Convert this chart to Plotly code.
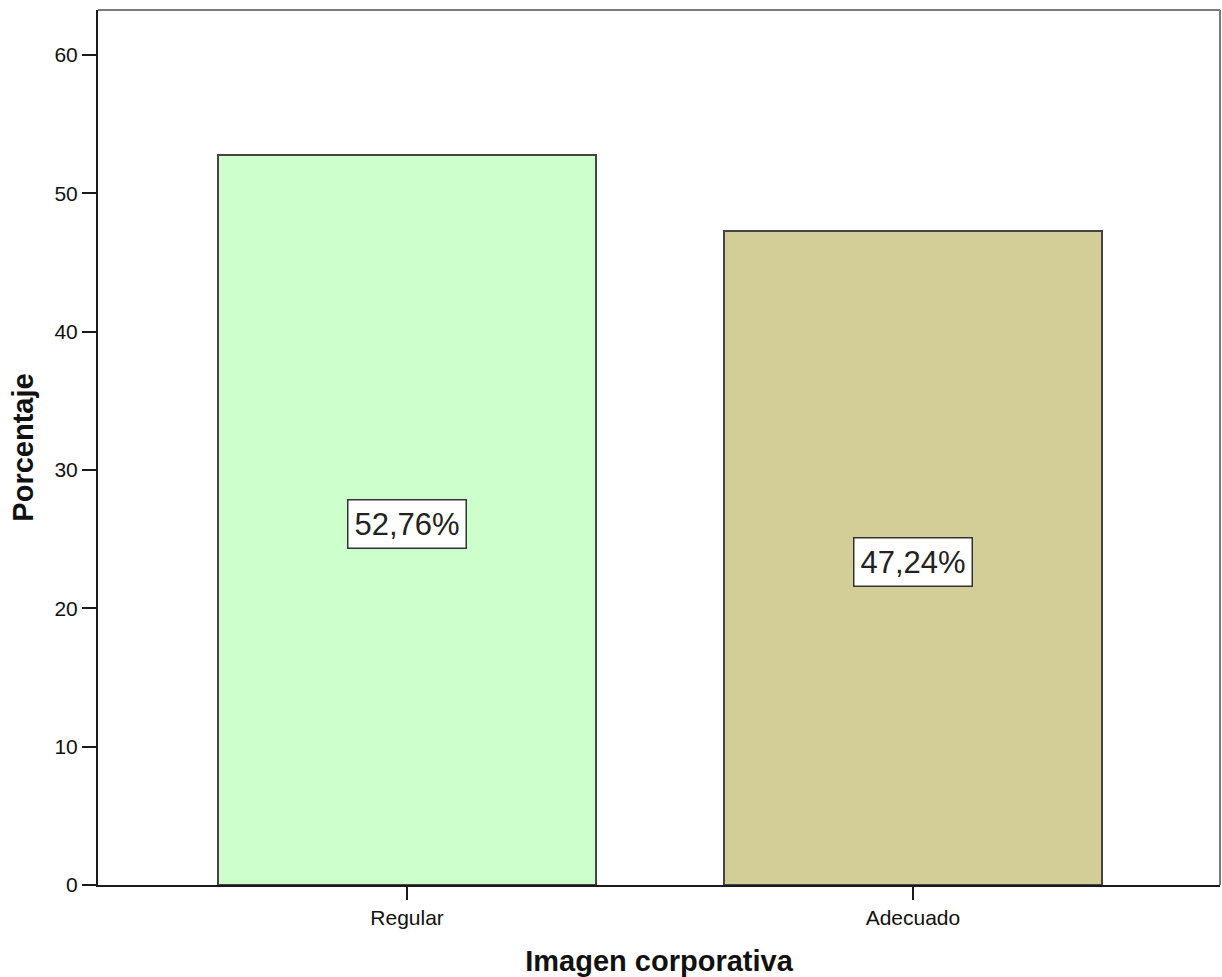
import plotly.graph_objects as go

# Category names, percentages and fill colours for each bar
categories = ["Regular", "Adecuado"]
percentages = [52.76, 47.24]
bar_colors = ["#CCFFCC", "#D3CE97"]
y_ticks = [0, 10, 20, 30, 40, 50, 60]

FONT = "Liberation Sans, Arial, sans-serif"


def fmt_pct(v):
    return f"{v:.2f}".replace(".", ",") + "%"


fig = go.Figure()
fig.add_trace(
    go.Bar(
        x=categories,
        y=percentages,
        width=0.747,
        marker=dict(color=bar_colors, line=dict(color="#444444", width=2)),
        hoverinfo="x+y",
    )
)

# Boxed value labels at mid-height of each bar
for cat, val in zip(categories, percentages):
    fig.add_annotation(
        x=cat,
        y=val / 2,
        yshift=-4,
        text=fmt_pct(val),
        showarrow=False,
        font=dict(family=FONT, size=31, color="#222222"),
        bgcolor="white",
        bordercolor="#333333",
        borderwidth=1.5,
        borderpad=6,
    )

# Grey frame on the top and right sides of the plotting area
fig.add_shape(type="line", xref="paper", yref="paper", x0=0, x1=1, y0=1, y1=1,
              line=dict(color="#7a7a7a", width=2))
fig.add_shape(type="line", xref="paper", yref="paper", x0=1, x1=1, y0=0, y1=1,
              line=dict(color="#7a7a7a", width=2))

fig.update_layout(
    width=1222,
    height=977,
    margin=dict(l=98, r=2, t=10, b=92),
    paper_bgcolor="white",
    plot_bgcolor="white",
    showlegend=False,
    font=dict(family=FONT, color="#111111"),
    bargap=0,
)

fig.update_xaxes(
    type="category",
    range=[-0.611, 1.607],
    showgrid=False,
    showline=True,
    linecolor="#1a1a1a",
    linewidth=2,
    ticks="outside",
    ticklen=13,
    tickwidth=2,
    tickcolor="#1a1a1a",
    tickfont=dict(family=FONT, size=21, color="#111111"),
    title=dict(text="<b>Imagen corporativa</b>",
               font=dict(family=FONT, size=29, color="#111111"), standoff=22),
)

fig.update_yaxes(
    range=[0, 63.25],
    tickvals=y_ticks,
    showgrid=False,
    zeroline=False,
    showline=True,
    linecolor="#1a1a1a",
    linewidth=2,
    ticks="outside",
    ticklen=14,
    tickwidth=2,
    tickcolor="#1a1a1a",
    tickfont=dict(family=FONT, size=21, color="#111111"),
    title=dict(text="<b>Porcentaje</b>",
               font=dict(family=FONT, size=29, color="#111111"), standoff=12),
)

fig.write_html("out.html")
